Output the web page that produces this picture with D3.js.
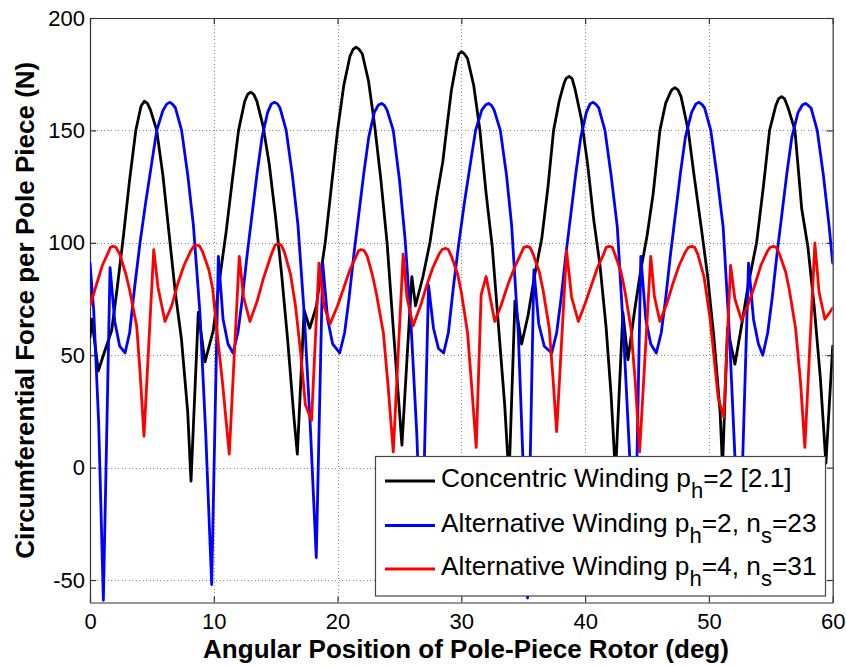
<!DOCTYPE html>
<html><head><meta charset="utf-8">
<script src="https://cdn.jsdelivr.net/npm/d3@7"></script>
<style>body{margin:0;background:#fff}svg{display:block}</style>
</head><body>
<svg id="chart" width="846" height="666"></svg>
<script>
// ---- data (angle in deg, force in N) ----
const xTicks = [0, 10, 20, 30, 40, 50, 60];
const yTicks = [-50, 0, 50, 100, 150, 200];
const xLabel = "Angular Position of Pole-Piece Rotor (deg)";
const yLabel = "Circumferential Force per Pole Piece (N)";

const concentric = [
[0,58],[0.15,66],[0.67,43],[1.2,52],[1.75,61],[2.2,80],[2.7,103],[3.2,128],[3.7,150],[4.05,159],[4.14,161],[4.39,163],[4.64,162],
[4.89,159],[5.39,150],[5.89,130],[6.39,104],[6.89,78],[7.39,57],[7.89,25],[8.16,-6],
[8.75,69],[9.29,47],[9.96,61],[10.5,85],[11.0,105],[11.5,128],[12.0,150],[12.5,163],[12.73,166],[12.98,167],[13.23,166],
[13.48,163],[13.98,152],[14.48,135],[14.98,112],[15.48,86],[15.98,56],[16.48,22],[16.75,6],
[17.3,70],[17.75,62],[18.3,72],[18.6,85],[19.0,100],[19.5,125],[20.0,150],[20.5,170],[21.0,183],[21.25,186],[21.5,187],[21.75,186],
[22.0,184],[22.5,172],[23.0,152],[23.5,128],[24.0,100],[24.5,62],[25.0,25],[25.2,10],
[26.0,85],[26.3,72],[26.9,85],[27.46,100],[28.0,120],[28.5,136],[28.8,150],[29.2,168],[29.6,180],[29.8,184],[30.0,185],[30.25,184],
[30.5,182],[31.0,170],[31.5,150],[32.0,122],[32.5,98],[33.0,63],[33.5,28],[33.85,-5],
[34.33,74],[34.87,55],[35.4,68],[35.9,85],[36.5,102],[37.0,125],[37.45,150],[37.9,163],[38.3,171],[38.45,173],[38.7,174],[38.95,173],
[39.2,168],[39.7,155],[40.2,135],[40.7,110],[41.2,90],[41.7,62],[42.1,32],[42.45,-3],
[43.05,69],[43.46,48],[44.0,70],[44.5,88],[45.0,103],[45.5,122],[46.04,150],[46.5,162],[46.9,167],[47.0,168],[47.25,169],[47.5,168],
[47.75,165],[48.33,150],[48.8,130],[49.4,106],[49.9,85],[50.4,58],[50.9,25],[51.1,0],
[51.5,62],[52.1,46],[52.6,62],[53.2,82],[53.85,100],[54.4,125],[54.9,150],[55.4,161],[55.62,164],[55.87,165],[56.12,164],
[56.4,160],[56.95,150],[57.5,115],[58.0,98],[58.5,72],[59.0,40],[59.45,2],[60,54]
];

const alternativePh2 = [
[0,91],[0.3,70],[0.7,20],[1.08,-59],[1.62,89],[2.0,65],[2.4,54],[2.83,51],
[3.2,60],[3.6,80],[4.04,100],[4.5,118],[5.0,136],[5.39,150],[5.9,159],[6.21,161.8],[6.46,162.5],[6.7,161.5],
[6.9,160],[7.4,150],[7.9,130],[8.35,108],[8.88,69],[9.35,15],[9.83,-52],[10.37,94],[10.75,66],[11.15,55],[11.55,51],
[11.95,60],[12.3,75],[12.7,95],[13.1,113],[13.5,131],[13.9,147],[14.35,158],[14.65,161.8],[14.9,162.5],[15.15,161.8],
[15.35,160],[15.85,150],[16.35,130],[16.8,108],[17.3,69],[17.8,18],[18.28,-40],[18.8,91],[19.2,66],[19.6,55],[20.17,51],
[20.57,60],[20.92,75],[21.32,95],[21.72,113],[22.12,131],[22.52,147],[22.97,158],[23.3,161.3],[23.56,162],[23.8,161],
[24.0,159],[24.5,150],[25.0,128],[25.45,102],[25.95,62],[26.4,15],[26.8,-45],[27.35,81],[27.75,62],[28.15,53],[28.57,51],
[28.95,60],[29.35,80],[29.8,100],[30.25,118],[30.75,136],[31.15,150],[31.65,159],[31.95,161.3],[32.2,162],[32.45,161],
[32.65,159],[33.15,150],[33.65,130],[34.06,108],[34.6,60],[35.0,0],[35.35,-58],[35.86,88],[36.25,64],[36.7,54],[37.3,51],
[37.7,60],[38.05,75],[38.45,95],[38.85,113],[39.25,131],[39.65,147],[40.1,158],[40.4,161.8],[40.65,162.5],[40.9,161.5],
[41.1,160],[41.6,150],[42.1,130],[42.6,107],[43.1,60],[43.6,5],[44.0,-50],[44.5,94],[44.9,66],[45.3,55],[45.75,51],
[46.15,60],[46.5,75],[46.9,95],[47.3,113],[47.7,131],[48.1,147],[48.6,158],[48.95,161.8],[49.2,162.5],[49.45,161.5],
[49.65,160],[50.15,150],[50.65,130],[51.15,107],[51.65,60],[52.1,5],[52.45,-48],[53.2,91],[53.6,66],[54.0,55],[54.35,50],
[54.75,60],[55.1,75],[55.5,95],[55.9,113],[56.3,131],[56.7,147],[57.2,158],[57.55,161.3],[57.8,162],[58.05,161],
[58.25,160],[58.75,150],[59.25,130],[59.7,108],[60,91]
];

const alternativePh4 = [
[0,72],[0.5,81],[1.0,90],[1.5,96],[1.65,98],[1.88,98.5],[2.1,98],[2.4,95],[2.9,86],[3.2,79],[3.77,63],[4.05,42],[4.36,14],
[5.15,97],[5.5,80],[6.06,65],[6.6,72],[7.1,82],[7.6,90],[8.1,96],[8.38,98.5],[8.62,99],[8.86,98.5],
[9.1,96],[9.6,88],[9.9,80],[10.23,62],[10.7,38],[11.25,6],
[12.06,94],[12.4,76],[12.92,65],[13.5,74],[14.0,84],[14.6,94],[14.95,99],[15.2,99.6],[15.45,99],
[15.7,96],[16.2,86],[16.6,72],[17.0,52],[17.4,28],[17.9,21],
[18.5,91],[18.9,72],[19.4,64],[20.0,72],[20.5,80],[21.0,88],[21.5,94],[21.7,96.5],[21.9,97],[22.15,96.5],
[22.4,94],[22.8,86],[23.15,77],[23.7,60],[24.1,35],[24.5,7],
[25.3,95],[25.6,76],[26.1,63],[26.7,72],[27.2,81],[27.7,89],[28.2,95],[28.45,97],[28.7,97.5],[28.95,97],
[29.2,94],[29.7,86],[30.0,78],[30.5,60],[30.85,35],[31.2,9],
[31.6,77],[32.0,85],[32.7,65],[33.2,72],[33.8,82],[34.3,89],[34.8,95],[35.05,98],[35.3,98.4],[35.55,98],
[35.8,95],[36.3,87],[36.6,79],[37.1,62],[37.4,40],[37.7,16],
[38.5,96.6],[38.9,76],[39.45,65],[40.0,73],[40.5,81],[41.0,89],[41.5,95],[41.7,98],[41.95,98.4],[42.2,98],
[42.4,95],[42.9,87],[43.2,79],[43.7,62],[44.05,38],[44.4,7],
[45.3,94],[45.6,76],[46.04,65],[46.6,73],[47.1,82],[47.6,90],[48.1,96],[48.35,98],[48.6,98.4],[48.85,98],
[49.1,95],[49.6,85],[50.1,66],[50.75,31],[51.2,22.5],
[51.75,90],[52.1,75],[52.64,65.5],[53.2,73],[53.7,81],[54.2,90],[54.7,96],[54.95,98],[55.2,98.4],[55.45,98],
[55.7,95],[56.2,87],[56.5,79],[57.0,62],[57.4,38],[57.75,9],
[58.56,99.8],[58.9,78],[59.37,66],[60,71]
];

const seriesData = [concentric, alternativePh2, alternativePh4];
const seriesColors = ["#000000", "#0000ff", "#ff0000"];
// legend entries: alternating normal text and subscript
const legendParts = [
  ["Concentric Winding p", "h", "=2 [2.1]"],
  ["Alternative Winding p", "h", "=2, n", "s", "=23"],
  ["Alternative Winding p", "h", "=4, n", "s", "=31"]
];

// ---- drawing ----
const svg = d3.select("#chart");
const FONT = "'Liberation Sans', Arial, Helvetica, sans-serif";
const pL = 90, pR = 832.7, pT = 18, pB = 602.5;
const x = d3.scaleLinear().domain([0, 60]).range([pL, pR]);
const y = d3.scaleLinear().domain([-60, 200]).range([pB, pT]);

svg.append("rect").attr("width", 846).attr("height", 666).attr("fill", "#fff");

// grid
const grid = svg.append("g").attr("stroke", "#8a8a8a").attr("stroke-width", 1)
  .attr("stroke-dasharray", "1,2.5").attr("shape-rendering", "crispEdges");
xTicks.filter(t => t > 0 && t < 60).forEach(t => {
  grid.append("line").attr("x1", Math.round(x(t)) + 0.5).attr("x2", Math.round(x(t)) + 0.5)
    .attr("y1", pT).attr("y2", pB);
});
yTicks.filter(t => t < 200).forEach(t => {
  grid.append("line").attr("y1", Math.round(y(t)) + 0.5).attr("y2", Math.round(y(t)) + 0.5)
    .attr("x1", pL).attr("x2", pR);
});

// axes (MATLAB-style box with inward ticks)
const tl = 6;
const fmt = d => String(d);
const axB = svg.append("g").attr("transform", `translate(0,${pB})`)
  .call(d3.axisBottom(x).tickValues(xTicks).tickFormat(fmt).tickSizeInner(-tl).tickSizeOuter(0).tickPadding(11));
const axT = svg.append("g").attr("transform", `translate(0,${pT})`)
  .call(d3.axisTop(x).tickValues(xTicks).tickSizeInner(-tl).tickSizeOuter(0).tickFormat(""));
const axL = svg.append("g").attr("transform", `translate(${pL},0)`)
  .call(d3.axisLeft(y).tickValues(yTicks).tickFormat(fmt).tickSizeInner(-tl).tickSizeOuter(0).tickPadding(5));
const axR = svg.append("g").attr("transform", `translate(${pR},0)`)
  .call(d3.axisRight(y).tickValues(yTicks).tickSizeInner(-tl).tickSizeOuter(0).tickFormat(""));
[axB, axT, axL, axR].forEach(a => {
  a.select(".domain").attr("stroke", "#333").attr("stroke-width", 1.2);
  a.selectAll(".tick line").attr("stroke", "#333").attr("stroke-width", 1.2);
  a.selectAll("text").attr("font-family", FONT).attr("font-size", 22).attr("fill", "#000");
});

// lines
const line = d3.line().x(d => x(d[0])).y(d => y(d[1]));
svg.append("clipPath").attr("id", "clip").append("rect")
  .attr("x", pL).attr("y", pT).attr("width", pR - pL).attr("height", pB - pT);
const lg = svg.append("g").attr("clip-path", "url(#clip)");
seriesData.forEach((s, i) => {
  lg.append("path").datum(s).attr("d", line).attr("fill", "none")
    .attr("stroke", seriesColors[i]).attr("stroke-width", 2.8)
    .attr("stroke-linejoin", "round").attr("stroke-linecap", "round");
});

// axis titles
svg.append("text").attr("x", 466).attr("y", 658).attr("text-anchor", "middle")
  .attr("font-family", FONT).attr("font-weight", "bold").attr("font-size", 26).text(xLabel);
svg.append("text").attr("transform", `translate(34,${(pT + pB) / 2}) rotate(-90)`)
  .attr("text-anchor", "middle").attr("font-family", FONT).attr("font-weight", "bold")
  .attr("font-size", 26).text(yLabel);

// legend
const legX = 375.5, legY = 456.5, legW = 450, legH = 139.5;
const leg = svg.append("g");
leg.append("rect").attr("x", legX).attr("y", legY).attr("width", legW).attr("height", legH)
  .attr("fill", "#fff").attr("stroke", "#444").attr("stroke-width", 1.2);
const rowBase = [487, 531.5, 575];
legendParts.forEach((parts, i) => {
  leg.append("line").attr("x1", 385).attr("x2", 435)
    .attr("y1", rowBase[i] - 6).attr("y2", rowBase[i] - 6)
    .attr("stroke", seriesColors[i]).attr("stroke-width", 2.8);
  const t = leg.append("text").attr("x", 441).attr("y", rowBase[i])
    .attr("font-family", FONT).attr("font-size", 26.3).attr("fill", "#000");
  parts.forEach((p, j) => {
    if (j % 2 === 0) {
      t.append("tspan").attr("dy", j === 0 ? 0 : -11).attr("font-size", 26.3).text(p);
    } else {
      t.append("tspan").attr("dy", 11).attr("font-size", 22).text(p);
    }
  });
});
</script>
</body></html>
